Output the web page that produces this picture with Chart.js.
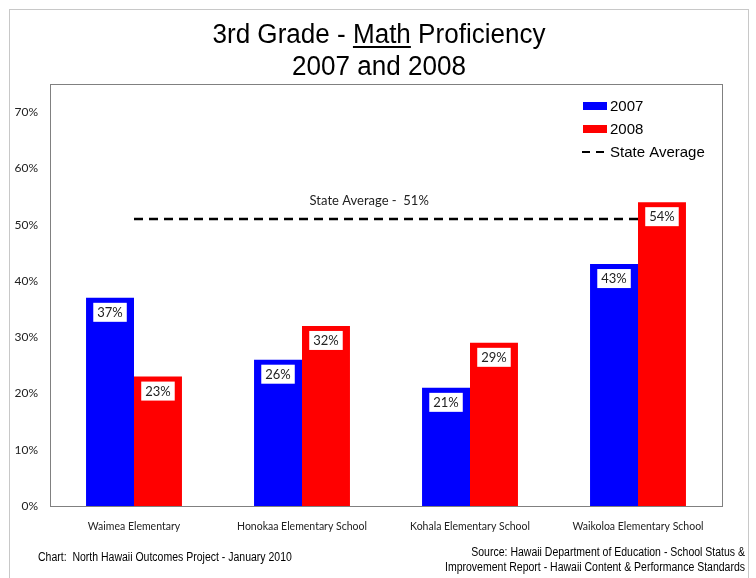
<!DOCTYPE html>
<html>
<head>
<meta charset="utf-8">
<script src="https://cdn.jsdelivr.net/npm/chart.js@4.4.0/dist/chart.umd.min.js"></script>
<style>
  body { margin: 0; background: #fff; }
</style>
</head>
<body>
<canvas id="mathChart" width="756" height="578"></canvas>
<script>
// school categories and proficiency (percent)
var schools = ['Waimea Elementary', 'Honokaa Elementary School', 'Kohala Elementary School', 'Waikoloa Elementary School'];
var pct2007 = [37, 26, 21, 43];
var pct2008 = [23, 32, 29, 54];
var stateAvg = [51, 51, 51, 51];
var seriesLabels = ['2007', '2008', 'State Average'];

var calibri = 'Lato, "Open Sans", sans-serif';
var arial = '"Liberation Sans", Arial, sans-serif';

// draws text squeezed horizontally, like Arial Narrow
function narrowText(ctx, txt, x, y, align, squeeze) {
    ctx.save();
    ctx.translate(x, y);
    ctx.scale(squeeze, 1);
    ctx.textAlign = align;
    ctx.fillText(txt, 0, 0);
    ctx.restore();
}

var decorPlugin = {
    id: 'decor',
    beforeDraw: function(chart) {
        var ctx = chart.ctx;
        ctx.save();
        ctx.fillStyle = '#fff';
        ctx.fillRect(0, 0, chart.width, chart.height);
        // outer frame
        ctx.strokeStyle = '#c8c8c8';
        ctx.lineWidth = 1;
        ctx.strokeRect(9.5, 9.5, 739, 620);
        ctx.restore();
    },
    afterDatasetsDraw: function(chart) {
        var ctx = chart.ctx;
        var area = chart.chartArea;
        ctx.save();

        // plot border
        ctx.strokeStyle = '#808080';
        ctx.lineWidth = 1;
        ctx.strokeRect(Math.round(area.left) + 0.5, Math.round(area.top) + 0.5,
            Math.round(area.right - area.left), Math.round(area.bottom - area.top));

        // value labels on bars
        ctx.font = '13px ' + calibri;
        ctx.textAlign = 'center';
        ctx.textBaseline = 'middle';
        [0, 1].forEach(function(di) {
            var meta = chart.getDatasetMeta(di);
            meta.data.forEach(function(bar, i) {
                var txt = chart.data.datasets[di].data[i] + '%';
                var w = ctx.measureText(txt).width + 8;
                ctx.fillStyle = '#fff';
                ctx.fillRect(bar.x - w / 2, bar.y + 5, w, 19);
                ctx.fillStyle = '#222';
                ctx.fillText(txt, bar.x, bar.y + 15);
            });
        });

        // state average caption
        var xs = chart.scales.x, ys = chart.scales.y;
        ctx.font = '13px ' + calibri;
        ctx.fillStyle = '#222';
        ctx.fillText('State Average -  ' + stateAvg[0] + '%', xs.getPixelForValue(1.4), ys.getPixelForValue(stateAvg[0]) - 18);

        // legend
        var lx = 583, ly = 106;
        ctx.font = '15px ' + arial;
        ctx.textAlign = 'left';
        ctx.textBaseline = 'middle';
        chart.data.datasets.forEach(function(ds, i) {
            var y = ly + i * 23;
            if (ds.type === 'line') {
                ctx.strokeStyle = ds.borderColor;
                ctx.lineWidth = 2;
                ctx.beginPath();
                ctx.moveTo(lx - 1, y); ctx.lineTo(lx + 7, y);
                ctx.moveTo(lx + 13, y); ctx.lineTo(lx + 21, y);
                ctx.stroke();
            } else {
                ctx.fillStyle = ds.backgroundColor;
                ctx.fillRect(lx, y - 4, 24, 8);
            }
            ctx.fillStyle = '#000';
            ctx.fillText(ds.label, lx + 27, y + 1);
        });

        // title
        ctx.font = '27px ' + arial;
        ctx.textBaseline = 'alphabetic';
        var p1 = '3rd Grade - ', p2 = 'Math', p3 = ' Proficiency';
        var sq = 0.965;
        var w1 = ctx.measureText(p1).width * sq, w2 = ctx.measureText(p2).width * sq, w3 = ctx.measureText(p3).width * sq;
        var tx = 379 - (w1 + w2 + w3) / 2;
        ctx.fillStyle = '#000';
        narrowText(ctx, p1, tx, 43, 'left', sq);
        narrowText(ctx, p2, tx + w1, 43, 'left', sq);
        narrowText(ctx, p3, tx + w1 + w2, 43, 'left', sq);
        ctx.fillRect(tx + w1, 46, w2, 2);
        narrowText(ctx, '2007 and 2008', 379, 75, 'center', sq);

        // footer notes
        ctx.font = '12px ' + arial;
        ctx.fillStyle = '#000';
        narrowText(ctx, 'Chart:  North Hawaii Outcomes Project - January 2010', 38, 561, 'left', 0.875);
        narrowText(ctx, 'Source: Hawaii Department of Education - School Status &', 745, 556, 'right', 0.875);
        narrowText(ctx, 'Improvement Report - Hawaii Content & Performance Standards', 745, 571, 'right', 0.875);
        ctx.restore();
    }
};

new Chart(document.getElementById('mathChart'), {
    type: 'bar',
    data: {
        labels: schools,
        datasets: [{
            label: seriesLabels[0],
            data: pct2007,
            backgroundColor: '#0000ff',
            borderWidth: 0,
            order: 2
        }, {
            label: seriesLabels[1],
            data: pct2008,
            backgroundColor: '#ff0000',
            borderWidth: 0,
            order: 2
        }, {
            type: 'line',
            label: seriesLabels[2],
            data: stateAvg,
            borderColor: '#000',
            borderWidth: 2.5,
            borderDash: [9, 6],
            pointRadius: 0,
            fill: false,
            order: 1
        }]
    },
    options: {
        responsive: false,
        animation: false,
        devicePixelRatio: 1,
        categoryPercentage: 0.571,
        barPercentage: 1,
        layout: { padding: { top: 84, left: 0, right: 34, bottom: 0 } },
        plugins: { legend: { display: false }, title: { display: false }, tooltip: { enabled: false } },
        scales: {
            x: {
                grid: { display: false },
                border: { display: false },
                ticks: { font: { family: calibri, size: 10.5 }, color: '#222', padding: 6, maxRotation: 0 },
                afterFit: function(scale) { scale.height = 72; }
            },
            y: {
                min: 0,
                max: 75,
                grid: { display: false },
                border: { display: false },
                ticks: {
                    stepSize: 10,
                    padding: 4,
                    font: { family: calibri, size: 12 },
                    color: '#222',
                    callback: function(v) { return v % 10 === 0 ? v + '%' : ''; }
                },
                afterFit: function(scale) { scale.width = 50; }
            }
        }
    },
    plugins: [decorPlugin]
});
</script>
</body>
</html>
